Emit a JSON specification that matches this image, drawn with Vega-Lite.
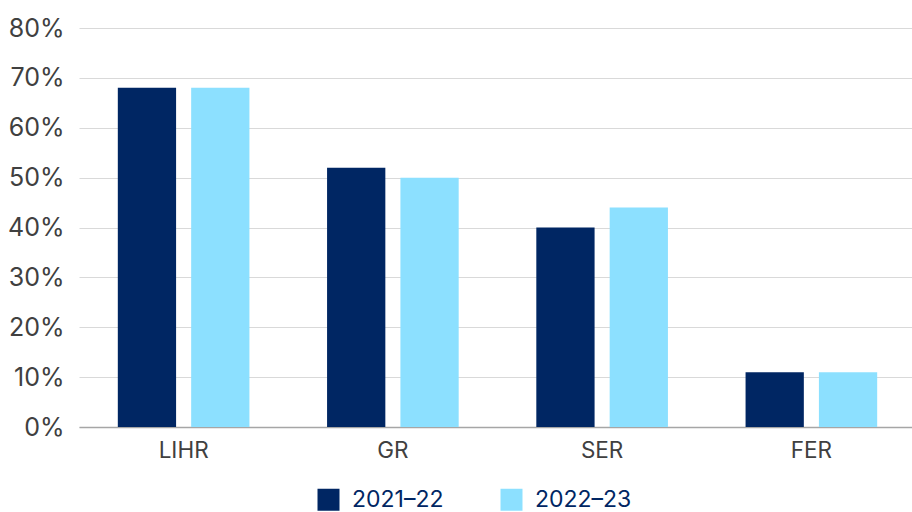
{
  "$schema": "https://vega.github.io/schema/vega-lite/v6.json",
  "width": 837,
  "height": 399,
  "autosize": "none",
  "padding": {"left": 79, "top": 28, "right": 0, "bottom": 85},
  "background": "white",
  "data": {
    "values": [
      {"metric": "LIHR", "year": "2021–22", "value": 68},
      {"metric": "LIHR", "year": "2022–23", "value": 68},
      {"metric": "GR", "year": "2021–22", "value": 52},
      {"metric": "GR", "year": "2022–23", "value": 50},
      {"metric": "SER", "year": "2021–22", "value": 40},
      {"metric": "SER", "year": "2022–23", "value": 44},
      {"metric": "FER", "year": "2021–22", "value": 11},
      {"metric": "FER", "year": "2022–23", "value": 11}
    ]
  },
  "config": {
    "view": {"stroke": null},
    "font": "Inter"
  },
  "mark": {"type": "bar"},
  "encoding": {
    "x": {
      "field": "metric",
      "type": "nominal",
      "sort": ["LIHR", "GR", "SER", "FER"],
      "scale": {"paddingInner": 0.371, "paddingOuter": 0.1855},
      "axis": {
        "title": null,
        "labelAngle": 0,
        "labelFont": "Inter",
        "labelFontSize": 22.5,
        "labelColor": "#404040",
        "labelPadding": 12,
        "ticks": false,
        "domainColor": "#a6a6a6",
        "domainWidth": 1.5
      }
    },
    "xOffset": {
      "field": "year",
      "type": "nominal",
      "scale": {"paddingInner": 0.2055, "paddingOuter": 0}
    },
    "y": {
      "field": "value",
      "type": "quantitative",
      "scale": {"domain": [0, 80], "nice": false},
      "axis": {
        "title": null,
        "values": [0, 10, 20, 30, 40, 50, 60, 70, 80],
        "labelExpr": "datum.value + '%'",
        "labelFont": "Inter",
        "labelFontSize": 25,
        "labelColor": "#404040",
        "labelPadding": 15,
        "ticks": false,
        "domain": false,
        "gridColor": "#d9d9d9",
        "gridWidth": 1.2
      }
    },
    "color": {
      "field": "year",
      "type": "nominal",
      "scale": {"domain": ["2021–22", "2022–23"], "range": ["#002663", "#8ce0ff"]},
      "legend": {
        "title": null,
        "orient": "none",
        "direction": "horizontal",
        "legendX": 238,
        "legendY": 460,
        "symbolType": "square",
        "symbolSize": 484,
        "symbolStrokeWidth": 0,
        "symbolOpacity": 1,
        "labelFont": "Inter",
        "labelFontSize": 23,
        "labelColor": "#002663",
        "labelOffset": 12,
        "columnPadding": 56
      }
    }
  }
}
